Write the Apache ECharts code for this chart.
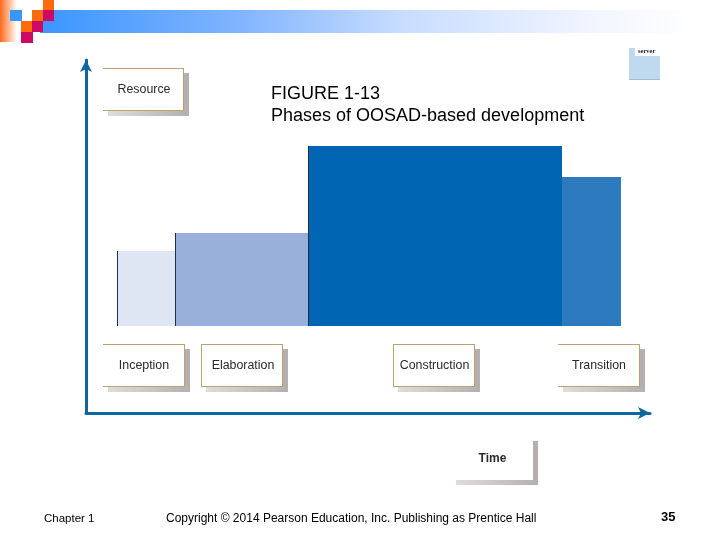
<!DOCTYPE html>
<html>
<head>
<meta charset="utf-8">
<style>
html, body { margin: 0; padding: 0; background: #fff; }
#chart { width: 720px; height: 540px; }
</style>
<script src="https://cdn.jsdelivr.net/npm/echarts@6/dist/echarts.min.js"></script>
</head>
<body>
<div id="chart"></div>
<script>
var phases = ['Inception', 'Elaboration', 'Construction', 'Transition'];
var phaseStart = [31, 89, 222, 476];
var phaseEnd = [89, 222, 476, 535];
var resourceBase = [87, 87, 87, 87];
var resourceTop = [162, 180, 267, 236];
var phaseColors = ['#dfe6f3', '#98b0da', '#0066b3', '#2e7abf'];

var font = '"Liberation Sans", Arial, sans-serif';
var chart = echarts.init(document.getElementById('chart'));

// square marks of the slide template
function square(x, y, w, h, color) {
	return { type: 'rect', shape: { x: x, y: y, width: w, height: h }, style: { fill: color }, z: 3 };
}

function line(x1, y1, x2, y2, color, width) {
	return {
		type: 'line',
		shape: { x1: x1, y1: y1, x2: x2, y2: y2 },
		style: { stroke: color, lineWidth: width },
		z: 4
	};
}

// box with shadow on the right and bottom; open = no left border
function labelBox(x, y, w, h, text, textX, open, noBorder) {
	var items = [
		{ type: 'rect', shape: { x: x + w, y: y + 5, width: 5, height: h }, style: { fill: '#b5b0b0' }, z: 3 },
		{
			type: 'rect',
			shape: { x: x + 5, y: y + h, width: w, height: 5 },
			style: {
				fill: new echarts.graphic.LinearGradient(0, 0, 1, 0, [
					{ offset: 0, color: '#e0dcdc' },
					{ offset: 1, color: '#b5b0b0' }
				])
			},
			z: 3
		}
	];
	if (!noBorder) {
		items.push(line(x, y + 0.5, x + w, y + 0.5, '#bfa36c', 1));
		items.push(line(x + w - 0.5, y, x + w - 0.5, y + h, '#bfa36c', 1));
		items.push(line(x, y + h - 0.5, x + w, y + h - 0.5, '#bfa36c', 1));
		if (!open) {
			items.push(line(x + 0.5, y, x + 0.5, y + h, '#bfa36c', 1));
		}
	}
	items.push({
		type: 'text',
		x: textX,
		y: y + h / 2 + 0.5,
		style: {
			text: text,
			font: (noBorder ? 'bold 12px ' : '12.4px ') + font,
			fill: '#2a2a2a',
			align: 'center',
			verticalAlign: 'middle'
		},
		z: 5
	});
	return items;
}

var graphics = [
	{
		type: 'rect',
		shape: { x: 40, y: 10, width: 650, height: 23 },
		style: {
			fill: new echarts.graphic.LinearGradient(0, 0, 1, 0, [
				{ offset: 0, color: '#3a96ff' },
				{ offset: 0.3, color: '#7fb3ff' },
				{ offset: 0.55, color: '#c6dcff' },
				{ offset: 0.85, color: '#f2f5ff' },
				{ offset: 1, color: '#ffffff' }
			])
		},
		z: 1
	},
	{
		type: 'rect',
		shape: { x: 0, y: 0, width: 17, height: 42 },
		style: {
			fill: new echarts.graphic.LinearGradient(0, 0, 1, 0, [
				{ offset: 0, color: '#ff6a1a' },
				{ offset: 1, color: '#ffffff' }
			])
		},
		z: 2
	},
	square(10, 10, 12, 11, '#3a96ff'),
	square(32, 10, 11, 11, '#ff6a0a'),
	square(43, 10, 11, 11, '#cc0a66'),
	square(43, 0, 11, 10, '#ff6a0a'),
	square(21, 21, 11, 11, '#ff6a0a'),
	square(32, 21, 11, 11, '#cc0a66'),
	square(21, 32, 12, 11, '#cc0a66'),
	// clipped picture top right
	square(629, 48, 31, 32, '#bfdaee'),
	square(629, 79, 31, 1, '#a9bccb'),
	square(635, 48, 25, 8, '#ffffff'),
	{
		type: 'text',
		x: 638,
		y: 47.5,
		style: { text: 'server', font: 'bold 6.5px "Liberation Serif", serif', fill: '#1a1a3a' },
		z: 5
	},
	{
		type: 'text',
		x: 271,
		y: 85,
		style: { text: 'FIGURE 1-13', font: '18px ' + font, fill: '#000' },
		z: 5
	},
	{
		type: 'text',
		x: 271,
		y: 107,
		style: { text: 'Phases of OOSAD-based development', font: '18px ' + font, fill: '#000' },
		z: 5
	},
	{
		type: 'text',
		x: 44,
		y: 513,
		style: { text: 'Chapter 1', font: '11.5px ' + font, fill: '#000' },
		z: 5
	},
	{
		type: 'text',
		x: 166,
		y: 513,
		style: { text: 'Copyright © 2014 Pearson Education, Inc. Publishing as Prentice Hall', font: '12px ' + font, fill: '#000' },
		z: 5
	},
	{
		type: 'text',
		x: 661,
		y: 511,
		style: { text: '35', font: 'bold 13px ' + font, fill: '#000' },
		z: 5
	}
];

graphics = graphics.concat(labelBox(103, 68, 81, 43, 'Resource', 144, true));
graphics = graphics.concat(labelBox(103, 344, 82, 43, phases[0], 144, true));
graphics = graphics.concat(labelBox(201, 344, 82, 43, phases[1], 243, false));
graphics = graphics.concat(labelBox(393, 344, 82, 43, phases[2], 434.5, false));
graphics = graphics.concat(labelBox(558, 344, 82, 43, phases[3], 599, true));
graphics = graphics.concat(labelBox(451, 436, 82, 44, 'Time', 492.5, true, true));

var barData = phases.map(function (name, i) {
	return [phaseStart[i], phaseEnd[i], resourceBase[i], resourceTop[i], i];
});

chart.setOption({
	animation: false,
	backgroundColor: '#fff',
	grid: { left: 86, top: 60, width: 564, height: 353 },
	xAxis: {
		type: 'value',
		min: 0,
		max: 564,
		splitLine: { show: false },
		axisTick: { show: false },
		axisLabel: { show: false },
		axisLine: {
			show: true,
			onZero: false,
			symbol: ['none', 'arrow'],
			symbolSize: [9, 12],
			lineStyle: { color: '#0f679f', width: 3 }
		}
	},
	yAxis: {
		type: 'value',
		min: 0,
		max: 353,
		splitLine: { show: false },
		axisTick: { show: false },
		axisLabel: { show: false },
		axisLine: {
			show: true,
			onZero: false,
			symbol: ['none', 'arrow'],
			symbolSize: [9, 12],
			lineStyle: { color: '#0f679f', width: 3 }
		}
	},
	graphic: graphics,
	series: [{
		type: 'custom',
		data: barData,
		encode: { x: [0, 1], y: [2, 3] },
		renderItem: function (params, api) {
			var lo = api.coord([api.value(0), api.value(2)]);
			var hi = api.coord([api.value(1), api.value(3)]);
			var idx = api.value(4);
			var children = [{
				type: 'rect',
				shape: { x: lo[0], y: hi[1], width: hi[0] - lo[0], height: lo[1] - hi[1] },
				style: { fill: phaseColors[idx] }
			}];
			// dark left edge on the first three phases
			if (idx < 3) {
				children.push({
					type: 'line',
					shape: { x1: lo[0] + 0.5, y1: hi[1], x2: lo[0] + 0.5, y2: lo[1] },
					style: { stroke: '#1d2f45', lineWidth: 1 }
				});
			}
			return { type: 'group', children: children };
		}
	}]
});
</script>
</body>
</html>
